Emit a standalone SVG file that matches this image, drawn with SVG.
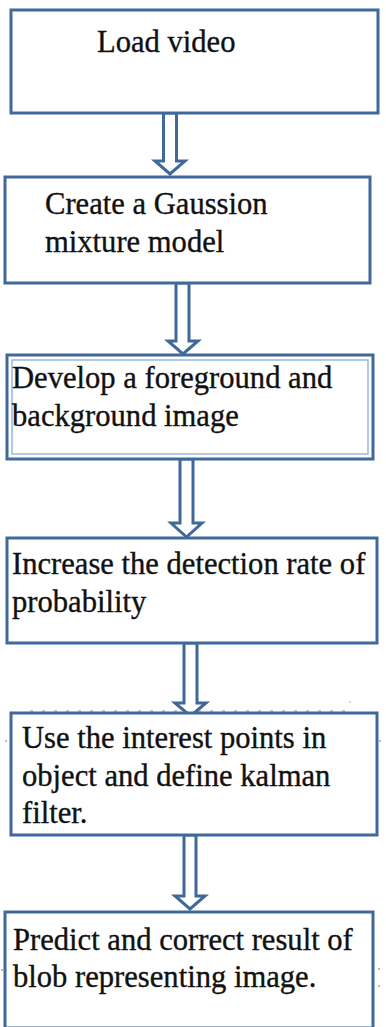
<svg xmlns="http://www.w3.org/2000/svg" width="386" height="1027" viewBox="0 0 386 1027">
  <style>
    .box { fill: #ffffff; stroke: #41689b; stroke-width: 3; }
    .inner { fill: none; stroke: #9ab6da; stroke-width: 1.5; }
    .lbl { font-size: 30.6px; fill: #111111; stroke: #111111; stroke-width: 0.35; }
    .arrow { fill: #ffffff; stroke: #41689b; stroke-width: 3; stroke-linejoin: miter; }
    .mark { stroke: #b4b4b4; stroke-width: 1.5; stroke-dasharray: 3 9; fill: none; }
    .dot { fill: #9a9a9a; }
  </style>
  <rect width="386" height="1027" fill="#ffffff"/>

  <!-- faint layout marks -->
  <g id="marks">
    <line class="mark" x1="30" y1="711" x2="345" y2="711"/>
    <circle class="dot" cx="350" cy="702" r="0.8"/>
    <circle class="dot" cx="6" cy="741" r="0.9"/>
    <circle class="dot" cx="380" cy="741" r="0.9"/>
    <circle class="dot" cx="2" cy="970" r="0.9"/>
    <circle class="dot" cx="379" cy="969" r="0.9"/>
    <circle class="dot" cx="379" cy="986" r="0.9"/>
  </g>

  <!-- hollow block arrows between steps -->
  <g id="connectors">
    <path class="arrow" d="M163.5 113 V161 H155 L170 174 L185 161 H176.5 V113 Z"/>
    <path class="arrow" d="M176 283 V341 H168 L183 354 L198 341 H189 V283 Z"/>
    <path class="arrow" d="M180 459 V523 H171 L186.5 537 L202 523 H193 V459 Z"/>
    <path class="arrow" d="M184 643 V703 H175 L190.5 716 L206 703 H197 V643 Z"/>
    <path class="arrow" d="M184 835 V896 H175 L190 909 L205 896 H196 V835 Z"/>
  </g>

  <g font-family="'Liberation Serif', 'DejaVu Serif', serif">
    <g id="step1">
      <rect class="box" x="11" y="10" width="367" height="103"/>
      <text class="lbl" x="97" y="52">Load video</text>
    </g>

    <g id="step2">
      <rect class="box" x="5" y="177" width="365" height="106"/>
      <text class="lbl" x="45" y="214">Create a Gaussion</text>
      <text class="lbl" x="45" y="252">mixture model</text>
    </g>

    <g id="step3">
      <rect class="box" x="7" y="355" width="366" height="104"/>
      <rect class="inner" x="12" y="360" width="356" height="94"/>
      <text class="lbl" x="12" y="388">Develop a foreground and</text>
      <text class="lbl" x="12" y="426">background image</text>
    </g>

    <g id="step4">
      <rect class="box" x="7" y="538" width="370" height="105"/>
      <text class="lbl" x="12" y="574">Increase the detection rate of</text>
      <text class="lbl" x="12" y="612">probability</text>
    </g>

    <g id="step5">
      <rect class="box" x="11" y="713" width="366" height="122"/>
      <text class="lbl" x="22" y="748">Use the interest points in</text>
      <text class="lbl" x="22" y="786">object and define kalman</text>
      <text class="lbl" x="22" y="823">filter.</text>
    </g>

    <g id="step6">
      <rect class="box" x="5" y="912" width="368" height="116"/>
      <text class="lbl" x="13" y="950">Predict and correct result of</text>
      <text class="lbl" x="13" y="987">blob representing image.</text>
    </g>
  </g>
</svg>
